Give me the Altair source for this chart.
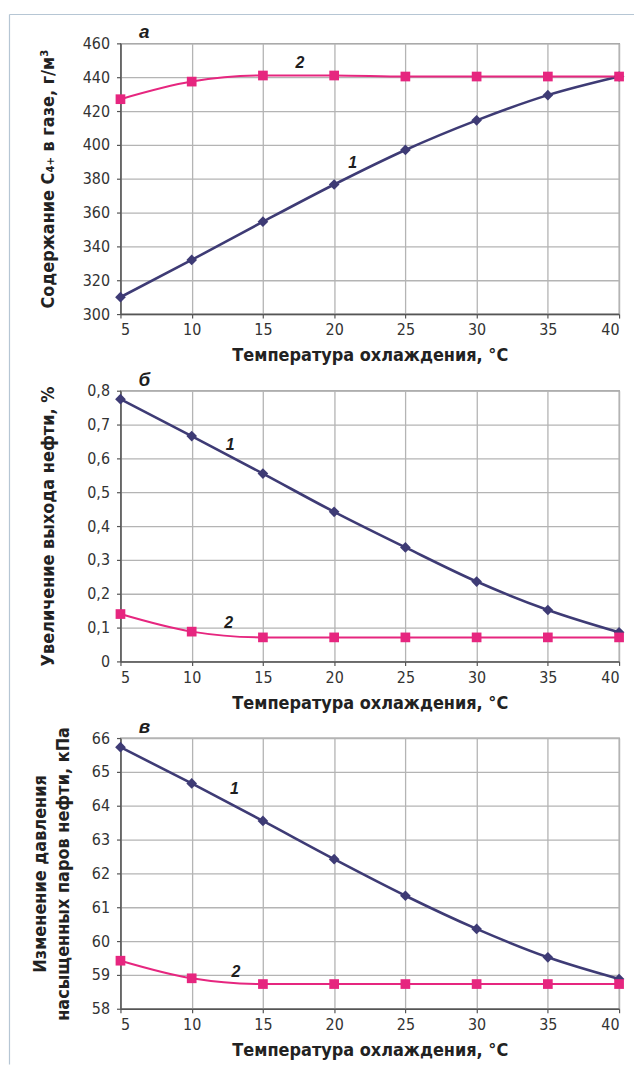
import altair as alt
import pandas as pd

# ---- data ----
temps = [5, 10, 15, 20, 25, 30, 35, 40]

a_curve1 = [310, 332, 354.6, 376.6, 397, 414.5, 429.4, 440.4]
a_curve2 = [427, 437.4, 441, 441, 440.4, 440.4, 440.4, 440.4]

b_curve1 = [0.775, 0.666, 0.555, 0.442, 0.337, 0.236, 0.152, 0.086]
b_curve2 = [0.140, 0.088, 0.071, 0.071, 0.071, 0.071, 0.071, 0.071]

c_curve1 = [65.73, 64.66, 63.55, 62.42, 61.34, 60.36, 59.52, 58.88]
c_curve2 = [59.42, 58.90, 58.73, 58.73, 58.73, 58.73, 58.73, 58.73]

a_ticks = [300, 320, 340, 360, 380, 400, 420, 440, 460]
b_ticks = [0, 0.1, 0.2, 0.3, 0.4, 0.5, 0.6, 0.7, 0.8]
c_ticks = [58, 59, 60, 61, 62, 63, 64, 65, 66]

curve_names = ["1", "2"]
a_label_x = [21.3, 17.6]
a_label_y = [389, 448.2]
b_label_x = [12.7, 12.6]
b_label_y = [0.64, 0.113]
c_label_x = [13.0, 13.1]
c_label_y = [64.49, 59.1]

x_title = "Температура охлаждения, °С"
a_title = "Содержание C₄₊ в газе, г/м³"
b_title = "Увеличение выхода нефти, %"
c_title = ["Изменение давления", "насыщенных паров нефти, кПа"]
letters = ["а", "б", "в"]

NAVY = "#3e3b75"
PINK = "#e6267f"
FRAME = "#b6c6d4"
NARROW = "Liberation Sans Narrow, DejaVu Sans Condensed, Arial Narrow, Liberation Sans, sans-serif"
ITAL = "Liberation Sans, Arial, sans-serif"

W, H = 501, 272


def panel(s1, s2, ydom, yticks, ytitle, letter, lab_x, lab_y,
          label_expr=None, title_x=-67, extra=None):
    df = pd.DataFrame({
        "t": temps + temps,
        "v": s1 + s2,
        "curve": ["1"] * len(temps) + ["2"] * len(temps),
    })
    yaxis_kw = dict(values=yticks, title=ytitle,
                    titleX=title_x, titleY=H / 2,
                    titleAngle=-90, titleAlign="center",
                    titleBaseline="alphabetic", labelPadding=7,
                    labelOverlap=False)
    if label_expr:
        yaxis_kw["labelExpr"] = label_expr
    xscale = alt.Scale(domain=[5, 40], nice=False, zero=False)
    yscale = alt.Scale(domain=ydom, nice=False, zero=False)
    x = alt.X("t:Q", scale=xscale,
              axis=alt.Axis(values=temps, title=x_title, titleY=47,
                            titleBaseline="alphabetic", labelPadding=4,
                            labelOverlap=False))
    y = alt.Y("v:Q", scale=yscale, axis=alt.Axis(**yaxis_kw))
    color = alt.Color("curve:N", scale=alt.Scale(domain=curve_names, range=[NAVY, PINK]),
                      legend=None)
    base = alt.Chart(df).encode(x=x, y=y, color=color)
    lines = base.mark_line(interpolate="monotone").encode(
        strokeWidth=alt.StrokeWidth("curve:N",
                                    scale=alt.Scale(domain=curve_names, range=[2.6, 2.0]),
                                    legend=None))
    pts = base.mark_point(filled=True, opacity=1).encode(
        shape=alt.Shape("curve:N",
                        scale=alt.Scale(domain=curve_names, range=["diamond", "square"]),
                        legend=None),
        size=alt.Size("curve:N", scale=alt.Scale(domain=curve_names, range=[115, 95]),
                      legend=None),
    )
    lab_df = pd.DataFrame({"t": lab_x, "v": lab_y, "name": curve_names})
    labels = alt.Chart(lab_df).mark_text(
        font=ITAL, fontSize=16, fontWeight="bold",
        fontStyle="italic", color="#1e1e1e").encode(
        x=x, y=y, text="name:N")
    let = alt.Chart(pd.DataFrame({"l": [letter]})).mark_text(
        font=ITAL, fontSize=19, fontWeight="bold",
        fontStyle="italic", color="#1e1e1e", baseline="middle").encode(
        text="l:N", x=alt.value(24), y=alt.value(-11))
    layers = [lines, pts, labels, let]
    if extra:
        layers = extra + layers
    return alt.layer(*layers).properties(width=W, height=H)


frame_df = pd.DataFrame({"k": [0]})
frame_left = alt.Chart(frame_df).mark_rule(color=FRAME, strokeWidth=1.2).encode(
    x=alt.value(-111.5), y=alt.value(-29), y2=alt.value(1026))
frame_top = alt.Chart(frame_df).mark_rule(color=FRAME, strokeWidth=1.2).encode(
    x=alt.value(-111.5), x2=alt.value(516), y=alt.value(-29))

pa = panel(a_curve1, a_curve2, [300, 460], a_ticks, a_title, letters[0],
           a_label_x, a_label_y, extra=[frame_left, frame_top])
pb = panel(b_curve1, b_curve2, [0, 0.8], b_ticks, b_title, letters[1],
           b_label_x, b_label_y,
           label_expr="datum.value == 0 ? '0' : replace(format(datum.value, '.1f'), '.', ',')")
pc = panel(c_curve1, c_curve2, [58, 66], c_ticks, c_title, letters[2],
           c_label_x, c_label_y, title_x=-75)

chart = alt.vconcat(pa, pb, pc, spacing=77, bounds="flush").properties(
    padding={"left": 0, "top": 2, "right": 0, "bottom": 0},
    background="white",
).configure_view(
    stroke="#8c8c8c", strokeWidth=1.3
).configure_axis(
    labelFont=NARROW, labelFontSize=16, labelColor="#333333",
    titleFont=NARROW, titleFontSize=18, titleFontWeight="bold", titleColor="#222222",
    titleLineHeight=23,
    tickColor="#555555", tickSize=4, tickWidth=1.2,
    domainColor="#555555", domainWidth=1.5,
    gridColor="#b4b4b4", gridWidth=1.3,
)

chart.save("out.html", embed_options={"renderer": "svg", "actions": False})
